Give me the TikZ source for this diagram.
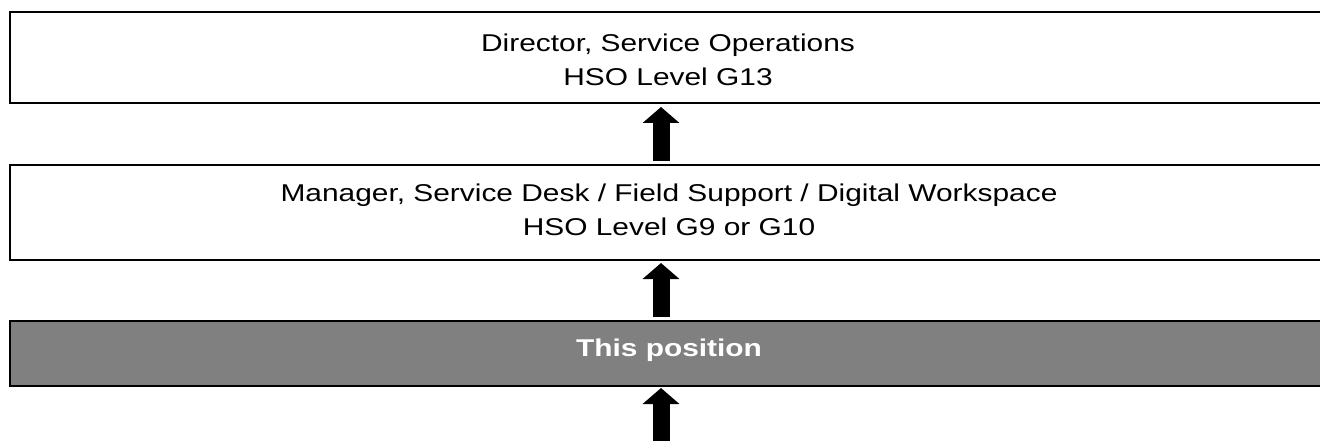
\documentclass[tikz,border=0pt]{standalone}
\usepackage{fontspec}
\setmainfont{Liberation Sans}[FakeStretch=1.23]
\usetikzlibrary{arrows.meta}
\begin{document}
\begin{tikzpicture}[x=1pt,y=-1pt,
  box/.style={draw=black, line width=1.6pt, rectangle, minimum width=1318pt, inner sep=0pt, outer sep=0pt},
  txt/.style={font=\fontsize{24.3}{30}\selectfont, inner sep=0pt, anchor=base},
  uparrow/.style={line width=17pt, -{Triangle[width=36pt,length=16pt]}, black}
]
\useasboundingbox (0,0) rectangle (1320,441);
\clip (0,0) rectangle (1320,441);
\coordinate (ax) at (661,0);
\coordinate (ab) at (661,445);

\node[box, fill=white, minimum height=91pt] (b1) at (669,57.5) {};
\node[box, fill=white, minimum height=95pt] (b2) at (669,212.5) {};
\node[box, fill=black!50, minimum height=65pt] (b3) at (669,353.5) {};

\node[txt] (t1a) at (668,52) {Director, Service Operations};
\node[txt] (t1b) at (668,86) {HSO Level G13};
\node[txt] (t2a) at (669,201) {Manager, Service Desk / Field Support / Digital Workspace};
\node[txt] (t2b) at (669,235) {HSO Level G9 or G10};
\node[txt, text=white, font=\fontsize{24.3}{30}\selectfont\bfseries] (t3) at (669,356) {This position};

\draw[uparrow, shorten <=4pt, shorten >=4pt] (b2.north -| ax) -- (b1.south -| ax);
\draw[uparrow, shorten <=4pt, shorten >=3pt] (b3.north -| ax) -- (b2.south -| ax);
\draw[uparrow, shorten >=2pt] (ab) -- (b3.south -| ax);
\end{tikzpicture}
\end{document}
